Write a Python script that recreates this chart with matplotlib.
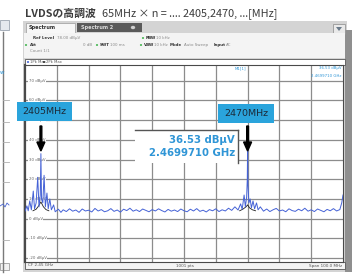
import matplotlib
matplotlib.use("Agg")
import matplotlib.pyplot as plt
from matplotlib.patches import Rectangle, FancyArrow, Circle, Polygon
from matplotlib.lines import Line2D

W, H = 355, 275

# ---- data ----
# 1Pk Max trace (blue), frequency in MHz, level in dBuV
trace1_f = [2400.0, 2400.6, 2401.0, 2401.5, 2402.0, 2402.6, 2403.0, 2403.5, 2404.0, 2404.4,
            2404.8, 2405.0, 2405.2, 2405.6, 2406.0, 2406.4, 2406.9, 2407.3, 2407.8, 2408.3,
            2409.0, 2409.5, 2410.5, 2411.3, 2412.0, 2413, 2414, 2415, 2416, 2417,
            2418, 2419, 2420, 2421, 2422, 2423, 2424, 2425, 2426, 2427,
            2428, 2429, 2430, 2431, 2432, 2433, 2434, 2435, 2436, 2437,
            2438, 2439, 2440, 2441, 2442, 2443, 2444, 2445, 2446, 2447,
            2448, 2449, 2450, 2451, 2452, 2453, 2454, 2455, 2456, 2457,
            2458, 2459, 2460, 2461, 2462, 2463, 2464, 2465, 2466, 2467,
            2467.8, 2468.3, 2468.9, 2469.3, 2469.7, 2469.9, 2470.0, 2470.1, 2470.4, 2470.8,
            2471.2, 2471.7, 2472.2, 2472.8, 2473.3, 2474, 2475, 2476, 2477, 2478,
            2479, 2480, 2481, 2482, 2483, 2484, 2485, 2486, 2487, 2488,
            2489, 2490, 2491, 2492, 2493, 2494, 2495, 2496, 2497, 2498,
            2499, 2499.6, 2500]
trace1_db = [3.8, 6.5, 4.0, 9.0, 4.5, 14.0, 5.0, 8.0, 21.0, 6.0,
             12.0, 33.0, 10.0, 8.0, 22.0, 6.0, 13.0, 5.0, 10.0, 4.5,
             7.0, 3.5, 4.8, 3.2, 4.5, 3.6, 5.0, 3.8, 4.4, 3.2,
             4.9, 3.9, 4.3, 3.4, 5.2, 3.9, 4.6, 3.5, 4.0, 5.1,
             3.7, 4.4, 3.3, 4.8, 4.1, 5.3, 3.8, 4.5, 3.6, 4.9,
             4.2, 3.5, 4.6, 3.9, 5.0, 4.1, 3.4, 4.7, 3.8, 4.4,
             3.6, 4.9, 4.0, 3.5, 4.8, 3.9, 5.1, 3.7, 4.3, 3.4,
             4.6, 4.0, 5.0, 3.6, 4.5, 3.9, 5.3, 4.2, 6.0, 4.4,
             7.5, 4.8, 12.0, 6.0, 11.0, 20.0, 36.53, 18.0, 8.0, 10.0,
             5.5, 9.0, 5.0, 8.0, 4.5, 6.0, 3.8, 4.9, 3.6, 4.5,
             5.2, 3.9, 4.4, 3.5, 5.0, 4.1, 3.7, 4.8, 4.0, 5.3,
             3.8, 4.5, 3.6, 4.9, 4.2, 3.5, 4.7, 4.0, 5.1, 3.9,
             4.6, 8.0, 12.0]

# 2Pk trace (black); only shows where it pokes out near the two harmonics
trace2_f_a = [2402.5, 2403.5, 2404.3, 2405.0, 2405.8, 2406.6, 2407.5]
trace2_db_a = [4.0, 4.8, 6.5, 8.5, 6.0, 4.6, 4.0]
trace2_f_b = [2467.5, 2468.5, 2469.5, 2470.0, 2470.6, 2471.5, 2472.5]
trace2_db_b = [4.0, 4.8, 6.0, 7.0, 5.5, 4.5, 4.0]

y_grid = [70, 60, 50, 40, 30, 20, 10, 0, -10, -20]
x_grid = [2400, 2410, 2420, 2430, 2440, 2450, 2460, 2470, 2480, 2490, 2500]
y_min, y_max = -22, 78

callouts = ["2405MHz", "2470MHz"]
callout_freq = [2405, 2470]
marker_level = "36.53 dBμV"
marker_freq = "2.4699710 GHz"

title_bold = "LVDSの高調波"
title_rest = "65MHz × n = .... 2405,2470, ...[MHz]"

CJK = ["Noto Sans CJK JP", "DejaVu Sans"]
BLUE_TXT = "#2f95d6"
CALLOUT = "#2aa4dc"
GRID = "#8c8c8c"


def fx(x):
    return x / W


def fy(y):
    return 1 - y / H


def rect(fig, x0, y0, x1, y1, **kw):
    r = Rectangle((fx(x0), fy(y1)), (x1 - x0) / W, (y1 - y0) / H,
                  transform=fig.transFigure, **kw)
    fig.add_artist(r)
    return r


def hline(fig, x0, x1, y, **kw):
    fig.add_artist(Line2D([fx(x0), fx(x1)], [fy(y), fy(y)], transform=fig.transFigure, **kw))


def vline(fig, x, y0, y1, **kw):
    fig.add_artist(Line2D([fx(x), fx(x)], [fy(y0), fy(y1)], transform=fig.transFigure, **kw))


def txt(fig, x, y, s, **kw):
    fig.text(fx(x), fy(y), s, **kw)


def dot(fig, x, y, color):
    fig.add_artist(Circle((fx(x), fy(y)), 1.1 / W, transform=fig.transFigure,
                          facecolor=color, edgecolor="none"))


fig = plt.figure(figsize=(W / 100, H / 100), dpi=100)
fig.patch.set_facecolor("white")

# neighbouring screenshot cut off at the left edge
rect(fig, 0, 20, 9, 30, facecolor="#e4e8ee", edgecolor="#9aa4b0", lw=0.6)
vline(fig, 3, 32, 272, color="#7a7a7a", lw=1.0)
for yy in [100, 122, 142, 162, 182, 240]:
    hline(fig, 3, 9, yy, color="#b0b0b0", lw=0.6)
txt(fig, 0, 72, "w", fontsize=4, color=BLUE_TXT, va="center")
fig.add_artist(Line2D([0, fx(3), fx(5), fx(7), fx(9)], [fy(206), fy(204), fy(207), fy(203), fy(205)],
                      transform=fig.transFigure, color="#4a66d0", lw=0.6))
rect(fig, 0, 263, 9, 270, facecolor="#f2f2f2", edgecolor="#8a8a8a", lw=0.5)

# title
txt(fig, 25, 14, title_bold, fontsize=7.8, fontweight="bold", color="#3c3c3c",
    family=CJK, va="center")
txt(fig, 102, 14, title_rest, fontsize=7.8, color="#3c3c3c", family=CJK, va="center")

# instrument window
rect(fig, 23, 21, 347, 272, facecolor="#d4d4d4", edgecolor="none")
rect(fig, 345, 30, 352, 272, facecolor="#8f8f8f", edgecolor="none")
rect(fig, 26, 23, 75, 33, facecolor="#f7f7f7", edgecolor="#9a9a9a", lw=0.5)
txt(fig, 29, 28, "Spectrum", fontsize=3.6, color="#303030", va="center", fontweight="bold")
rect(fig, 77, 23, 142, 32, facecolor="#5a5a5a", edgecolor="none")
txt(fig, 81, 27.5, "Spectrum 2", fontsize=3.6, color="#dcdcdc", va="center", fontweight="bold")
fig.add_artist(Circle((fx(133), fy(27.5)), 2.2 / W, transform=fig.transFigure,
                      facecolor="#cfcfcf", edgecolor="none"))
rect(fig, 333, 24, 345, 34, facecolor="#e9e9e9", edgecolor="#8a8a8a", lw=0.5)
fig.add_artist(Polygon([(fx(336), fy(27)), (fx(342), fy(27)), (fx(339), fy(31))],
                       transform=fig.transFigure, facecolor="#6a7a8a", edgecolor="none"))

# settings panel
rect(fig, 24, 33, 345, 58, facecolor="#f4f4f4", edgecolor="none")
info_kw = dict(fontsize=2.9, va="center", color="#8a8a8a")
bold_kw = dict(fontsize=2.9, va="center", color="#333333", fontweight="bold")
txt(fig, 33, 38, "Ref Level", **bold_kw)
txt(fig, 57, 38, "78.00 dBμV", **info_kw)
dot(fig, 26, 45, "#2fae3c")
txt(fig, 30, 45, "Att", **bold_kw)
txt(fig, 83, 45, "0 dB", **info_kw)
txt(fig, 30, 51, "Count 1/1", **info_kw)
for xd, yd, lab, val in [(143, 38, "RBW", "10 kHz"), (97, 45, "SWT", "100 ms"),
                         (141, 45, "VBW", "10 kHz")]:
    dot(fig, xd, yd, "#2fae3c")
    txt(fig, xd + 3, yd, lab, **bold_kw)
    txt(fig, xd + 13, yd, val, **info_kw)
txt(fig, 170, 45, "Mode", **bold_kw)
txt(fig, 184, 45, "Auto Sweep", **info_kw)
txt(fig, 214, 45, "Input", **bold_kw)
txt(fig, 226, 45, "AC", **info_kw)

# trace legend strip
rect(fig, 25, 59, 345, 65, facecolor="white", edgecolor="#555555", lw=0.6)
dot(fig, 28, 62, "#2b4fd0")
txt(fig, 30, 62, "1Pk Max", fontsize=2.7, va="center", color="#555555")
dot(fig, 44, 62, "black")
txt(fig, 46, 62, "2Pk Max", fontsize=2.7, va="center", color="#555555")

# status bar
rect(fig, 25, 262, 345, 269, facecolor="#f4f4f4", edgecolor="#555555", lw=0.6)
txt(fig, 28, 265.5, "CF 2.45 GHz", fontsize=3.0, va="center", color="#555555")
txt(fig, 176, 265.5, "1001 pts", fontsize=3.0, va="center", color="#555555")
txt(fig, 342, 265.5, "Span 100.0 MHz", fontsize=3.0, va="center", ha="right", color="#555555")

# spectrum plot
ax = fig.add_axes([fx(25), fy(262), 318 / W, 197 / H])
ax.set_zorder(3)
ax.set_facecolor("white")
ax.set_xlim(2400, 2500)
ax.set_ylim(y_min, y_max)
for v in x_grid[1:-1]:
    ax.axvline(v, color=GRID, lw=0.9, zorder=1)
for v in y_grid:
    ax.axhline(v, color=GRID, lw=0.9, zorder=1)
ax.set_xticks([])
ax.set_yticks([])
for side, sp in ax.spines.items():
    sp.set_color("#4a4a4a")
    sp.set_linewidth(1.6 if side == "left" else 0.8)

for v in y_grid:
    ax.text(2401.2, v, "%d dBμV" % v, fontsize=2.8, color="#666666", va="center",
            zorder=2, bbox=dict(boxstyle="square,pad=0.1", facecolor="white", edgecolor="none"))

ax.plot(trace2_f_a, trace2_db_a, color="#202020", lw=0.6, zorder=3)
ax.plot(trace2_f_b, trace2_db_b, color="#202020", lw=0.6, zorder=3)
ax.plot(trace1_f, trace1_db, color="#4562d6", lw=0.7, zorder=4)

# marker readout at the top right
ax.text(2469.5, 76.5, "M1[1]", fontsize=2.8, color=BLUE_TXT, va="center", ha="right")
ax.text(2499.5, 76.5, marker_level, fontsize=2.8, color=BLUE_TXT, va="center", ha="right")
ax.text(2499.5, 72.5, marker_freq, fontsize=2.8, color=BLUE_TXT, va="center", ha="right")

# marker info box
rect(fig, 135, 130, 238, 163, facecolor="white", edgecolor="none", zorder=5)
hline(fig, 135, 238, 130, color="#555555", lw=1.0, zorder=6)
vline(fig, 238, 130, 163, color="#555555", lw=1.0, zorder=6)
txt(fig, 235, 140, marker_level, fontsize=7.3, fontweight="bold", color=BLUE_TXT,
    ha="right", va="center", zorder=7)
txt(fig, 235, 153, marker_freq, fontsize=7.3, fontweight="bold", color=BLUE_TXT,
    ha="right", va="center", zorder=7)

# callout boxes with arrows
boxes = [(17, 102, 72, 121), (218, 104, 274, 123)]
for (x0, y0, x1, y1), lab, f in zip(boxes, callouts, callout_freq):
    rect(fig, x0, y0, x1, y1, facecolor=CALLOUT, edgecolor="none", zorder=8)
    txt(fig, (x0 + x1) / 2, (y0 + y1) / 2 + 0.5, lab, fontsize=6.8, color="#1c2a38",
        ha="center", va="center", zorder=9)
    xa = 25 + (f - 2400) * 3.18
    fig.add_artist(FancyArrow(fx(xa), fy(126), 0, -(25) / H, width=1.8 / W,
                              head_width=8 / W, head_length=9 / H,
                              length_includes_head=True, transform=fig.transFigure,
                              color="black", zorder=9))

fig.savefig("out.png", dpi=100)
